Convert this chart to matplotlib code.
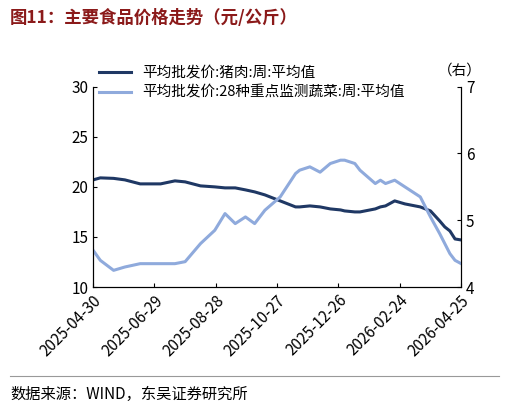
import matplotlib
matplotlib.use("Agg")
import matplotlib.pyplot as plt
import matplotlib.dates as mdates
import pandas as pd

plt.rcParams['font.family'] = ['Noto Sans CJK SC', 'DejaVu Sans']

dates = ["2025-04-30","2025-05-07","2025-05-20","2025-05-31","2025-06-15","2025-07-05","2025-07-19",
         "2025-07-29","2025-08-13","2025-08-27","2025-09-06","2025-09-16","2025-09-26","2025-10-05",
         "2025-10-15","2025-10-30","2025-11-14","2025-11-18","2025-11-28","2025-12-08","2025-12-18",
         "2025-12-28","2026-01-01","2026-01-11","2026-01-16","2026-01-31","2026-02-05","2026-02-10",
         "2026-02-19","2026-03-01","2026-03-06","2026-03-16","2026-03-26","2026-04-04","2026-04-09",
         "2026-04-14","2026-04-19","2026-04-25"]
pork = [20.7,20.9,20.85,20.7,20.3,20.3,20.6,20.5,20.1,20.0,19.9,19.9,19.7,19.5,
        19.2,18.6,18.0,18.0,18.1,18.0,17.8,17.7,17.6,17.5,17.5,17.8,18.0,18.1,
        18.6,18.3,18.2,18.0,17.6,16.6,16.0,15.6,14.8,14.7]
veg = [4.55,4.4,4.25,4.3,4.35,4.35,4.35,4.38,4.65,4.85,5.1,4.95,5.05,4.95,
       5.15,5.35,5.7,5.75,5.8,5.72,5.85,5.9,5.9,5.85,5.75,5.55,5.6,5.55,
       5.6,5.5,5.45,5.35,5.05,4.8,4.65,4.5,4.4,4.35]
ticks = ["2025-04-30","2025-06-29","2025-08-28","2025-10-27","2025-12-26","2026-02-24","2026-04-25"]

d = pd.to_datetime(dates)
fig = plt.figure(figsize=(5.09,4.13), dpi=100)
ax = fig.add_axes([0.183, 0.305, 0.723, 0.485])
ax2 = ax.twinx()
c1, c2 = '#1f3864', '#8faadc'
l1, = ax.plot(d, pork, color=c1, lw=2.2)
l2, = ax2.plot(d, veg, color=c2, lw=2.2)
ax.set_ylim(10,30); ax.set_yticks([10,15,20,25,30])
ax2.set_ylim(4,7); ax2.set_yticks([4,5,6,7])
ax.set_xlim(pd.Timestamp("2025-04-30"), pd.Timestamp("2026-04-25"))
ax.set_xticks(pd.to_datetime(ticks))
ax.xaxis.set_major_formatter(mdates.DateFormatter('%Y-%m-%d'))
for lab in ax.get_xticklabels():
    lab.set_rotation(45); lab.set_ha('right'); lab.set_rotation_mode('anchor')
for a in (ax, ax2):
    a.tick_params(labelsize=11, direction='in', length=3)
    a.spines['top'].set_visible(False)
ax.legend([l1,l2], ["平均批发价:猪肉:周:平均值","平均批发价:28种重点监测蔬菜:周:平均值"],
          loc='upper left', bbox_to_anchor=(-0.02,1.17), frameon=False, fontsize=10.5,
          handlelength=2.2, labelspacing=0.4)
fig.text(0.86, 0.82, "（右）", fontsize=10.5)
fig.text(0.02, 0.945, "图11：主要食品价格走势（元/公斤）", fontsize=12.5, fontweight='bold', color='#8b1a1a')
fig.add_artist(plt.Line2D([0.02,0.98],[0.09,0.09], color='#999999', lw=0.8))
fig.text(0.02, 0.035, "数据来源：WIND，东吴证券研究所", fontsize=11)
fig.savefig("out.png", dpi=100)
